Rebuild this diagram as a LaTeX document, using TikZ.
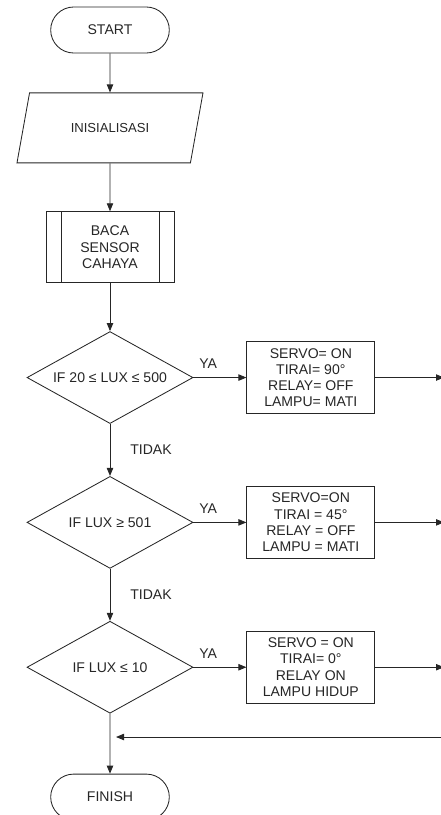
\documentclass[tikz,border=0pt]{standalone}
\usepackage{fontspec}
\setmainfont{Liberation Sans}
\usepackage{tikz}
\usetikzlibrary{arrows.meta,positioning,shapes.geometric,shapes.misc,calc}

\begin{document}
\begin{tikzpicture}[%
    >={Triangle[length=2mm,width=1.6mm]},
    line width=0.6pt, draw=black!85,
    every node/.style={font=\fontsize{10}{11.5}\selectfont, text=black!85},
    term/.style={rounded rectangle, draw, minimum width=3.2cm, minimum height=1.15cm},
    io/.style={trapezium, draw, trapezium left angle=56, trapezium right angle=124, trapezium stretches body, minimum width=4.65cm, minimum height=1.75cm},
    subproc/.style={rectangle, draw, minimum width=3.2cm, minimum height=1.775cm, align=center},
    decision/.style={diamond, draw, aspect=1.8, inner sep=0pt, minimum width=4.15cm, minimum height=2.3cm},
    action/.style={rectangle, draw, minimum width=3.2cm, minimum height=1.8cm, align=center, inner sep=1pt},
    flow/.style={->, draw=black!85},
    branchlabel/.style={font=\fontsize{10}{11.5}\selectfont},
  ]
  \useasboundingbox (0,0) rectangle (11.025,-20.375);

  % --- main column ---
  \node[term] (start) at (2.75,-0.75) {START};
  \node[io, below=0.975cm of start] (init) {\fontsize{9.3}{11}\selectfont INISIALISASI};
  \node[subproc, below=1.2cm of init] (baca) {BACA\\SENSOR\\CAHAYA};
  \draw ([xshift=0.4cm]baca.north west) -- ([xshift=0.4cm]baca.south west);
  \draw ([xshift=-0.375cm]baca.north east) -- ([xshift=-0.375cm]baca.south east);
  \node[decision, below=1.2cm of baca] (cek1) {IF 20 ≤ LUX ≤ 500};
  \node[decision, below=1.3cm of cek1] (cek2) {IF LUX ≥ 501};
  \node[decision, below=1.3cm of cek2] (cek3) {IF LUX ≤ 10};
  \node[term, below=1.5cm of cek3] (finish) {FINISH};

  % --- actions (right) ---
  \node[action, right=1.325cm of cek1] (aksi1) {SERVO= ON\\TIRAI= 90°\\RELAY= OFF\\LAMPU= MATI};
  \node[action, right=1.325cm of cek2] (aksi2) {SERVO=ON\\TIRAI = 45°\\RELAY = OFF\\LAMPU = MATI};
  \node[action, right=1.325cm of cek3] (aksi3) {SERVO = ON\\TIRAI= 0°\\RELAY ON\\LAMPU HIDUP};

  \coordinate (edge) at (11.1,0);
  \coordinate (back) at (11.1,-18.425);
  \coordinate (merge) at (cek3.south |- back);

  % --- connectors ---
  \draw[flow] (start) -- (init);
  \draw[flow] (init) -- (baca);
  \draw[flow] (baca) -- (cek1);
  \draw[flow] (cek1) -- (cek2) node[midway, right=0.38cm, branchlabel] {TIDAK};
  \draw[flow] (cek2) -- (cek3) node[midway, right=0.38cm, branchlabel] {TIDAK};
  \draw[flow] (cek3) -- (finish);

  \draw[flow] (cek1.east) -- (aksi1) node[pos=0.28, above=2.5pt, branchlabel] {YA};
  \draw[flow] (cek2.east) -- (aksi2) node[pos=0.28, above=2.5pt, branchlabel] {YA};
  \draw[flow] (cek3.east) -- (aksi3) node[pos=0.28, above=2.5pt, branchlabel] {YA};

  \draw[flow] (aksi1.east) -- (aksi1.east -| edge);
  \draw[flow] (aksi2.east) -- (aksi2.east -| edge);
  \draw[flow] (aksi3.east) -- (aksi3.east -| edge);

  \draw[flow] (back) -- ([xshift=0.15cm]merge);
\end{tikzpicture}
\end{document}
